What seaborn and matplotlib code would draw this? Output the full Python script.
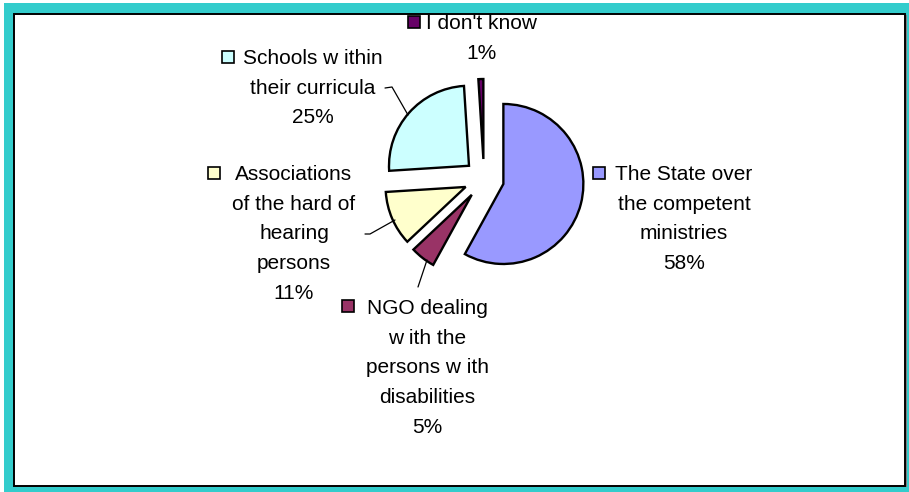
import matplotlib
matplotlib.use("Agg")
import matplotlib.pyplot as plt
from matplotlib.patches import Rectangle
import seaborn as sns

# Survey answers: who should take care of the hard of hearing
categories = [
    "The State over\nthe competent\nministries",
    "NGO dealing\nw ith the\npersons w ith\ndisabilities",
    "Associations\nof the hard of\nhearing\npersons",
    "Schools w ithin\ntheir curricula",
    "I don't know",
]
shares = [58, 5, 11, 25, 1]
slice_colors = ["#9999FF", "#993366", "#FFFFCC", "#CCFFFF", "#660066"]

sns.set_theme(style="white")
plt.rcParams["font.family"] = ["Liberation Sans", "DejaVu Sans"]

W, H = 909, 492
fig = plt.figure(figsize=(W / 100, H / 100), dpi=100)
fig.patch.set_facecolor("white")
ax = fig.add_axes([0, 0, 1, 1])


def Y(y):
    # top-down pixel row -> axes coordinate
    return H - y


# outer teal frame and white plot area
ax.add_patch(Rectangle((4, Y(492)), 905, 489, facecolor="#33CCCC",
                       edgecolor="none", zorder=0))
ax.add_patch(Rectangle((15, Y(487)), 892, 472, facecolor="#808080",
                       edgecolor="none", zorder=0.5))
ax.add_patch(Rectangle((14, Y(486)), 891, 472, facecolor="white",
                       edgecolor="black", linewidth=1.4, zorder=1))

palette = sns.color_palette(slice_colors)
# explode distance is in data units (pixels here)
wedges, _ = ax.pie(
    shares,
    colors=palette,
    startangle=90,
    counterclock=False,
    explode=[20] * len(shares),
    radius=80,
    center=(484, Y(179)),
    frame=True,
    wedgeprops=dict(edgecolor="black", linewidth=1.7),
)
for w in wedges:
    w.set_zorder(3)

ax.set_xlim(0, W)
ax.set_ylim(0, H)
ax.set_axis_off()

# label block centres (x, first-line y) and legend-key positions
label_pos = [(684, 173), (427, 307), (294, 173), (313, 57), (482, 22)]
key_pos = [(593, 167), (342, 300), (208, 167), (222, 51), (408, 16)]

for cat, val, col, (lx, ly), (kx, ky) in zip(categories, shares, palette,
                                             label_pos, key_pos):
    ax.text(lx, Y(ly) + 8, f"{cat}\n{val}%", ha="center", va="top",
            multialignment="center", fontsize=15, linespacing=1.71,
            color="black", zorder=5)
    ax.add_patch(Rectangle((kx, Y(ky + 12)), 12, 12, facecolor=col,
                           edgecolor="black", linewidth=1.2, zorder=5))

# leader lines from labels to their slices
leaders = [
    [(385, 88), (392, 87), (408, 115)],
    [(365, 234), (370, 234), (395, 220)],
    [(418, 287), (427, 260)],
]
for pts in leaders:
    xs = [p[0] for p in pts]
    ys = [Y(p[1]) for p in pts]
    ax.plot(xs, ys, color="black", linewidth=0.9, zorder=4)

fig.savefig("out.png", dpi=100, facecolor="white")
